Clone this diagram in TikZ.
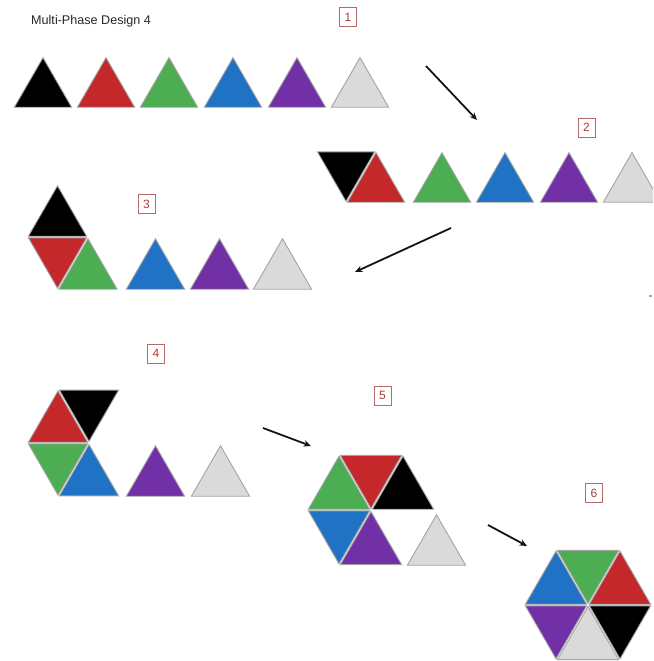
\documentclass[tikz,border=0pt]{standalone}
\usepackage{fontspec}
\setmainfont{Liberation Sans}
\usetikzlibrary{calc,arrows.meta}

\definecolor{tblack}{HTML}{000000}
\definecolor{tred}{HTML}{C4282B}
\definecolor{tgreen}{HTML}{4CAD52}
\definecolor{tblue}{HTML}{1F72C4}
\definecolor{tpurple}{HTML}{7230A6}
\definecolor{tgrey}{HTML}{DADADA}
\definecolor{tedge}{HTML}{A4A4A4}
\definecolor{labelred}{HTML}{A83A3A}
\definecolor{labelframe}{HTML}{B86A6A}

\tikzset{
  tileedge/.style={draw=tedge, line width=0.9pt, line join=miter},
  phaselabel/.style={draw=labelframe, line width=0.7pt, text=labelred,
    minimum width=17pt, minimum height=19pt, inner sep=0pt,
    font=\fontsize{12}{12}\selectfont},
  phasearrow/.style={draw=black!92, line width=1.8pt,
    -{Stealth[length=7.5pt,width=6.5pt]}},
}

% one triangular tile, pulled slightly in toward its centre
\newcommand\tile[4]{%
  \coordinate (tA) at (#2);
  \coordinate (tB) at (#3);
  \coordinate (tC) at (#4);
  \coordinate (tM) at ($0.3333*(tA)+0.3333*(tB)+0.3334*(tC)$);
  \filldraw[tileedge, fill=#1] ($(tA)!1.6pt!(tM)$) -- ($(tB)!1.6pt!(tM)$)
    -- ($(tC)!1.6pt!(tM)$) -- cycle;}
% upright tile: colour, left x, base y, side
\newcommand\uptile[4]{\tile{#1}{#2,#3}{{#2+#4},#3}{{#2+#4/2},{#3-0.866*#4}}}
% inverted tile: colour, left x, top y, side
\newcommand\downtile[4]{\tile{#1}{#2,#3}{{#2+#4},#3}{{#2+#4/2},{#3+0.866*#4}}}

\begin{document}
\begin{tikzpicture}[x=1pt, y=-1pt]
  \useasboundingbox (0,0) rectangle (653,661);
  \clip (0,0) rectangle (653,661);

  \node[anchor=base west, text=black!85, font=\fontsize{12.6}{13}\selectfont,
        inner sep=0pt] (title) at (31,25) {Multi-Phase Design 4};

  % phase 1: six loose tiles
  \uptile{tblack}{13}{108}{60}
  \uptile{tred}{76}{108}{60}
  \uptile{tgreen}{139}{108}{60}
  \uptile{tblue}{203}{108}{60}
  \uptile{tpurple}{267}{108}{60}
  \uptile{tgrey}{330}{108}{60}
  \node[phaselabel] (p1) at (348,17) {1};

  % phase 2
  \downtile{tblack}{316}{151}{60}
  \uptile{tred}{346}{203}{60}
  \uptile{tgreen}{412}{203}{60}
  \uptile{tblue}{475}{203}{60}
  \uptile{tpurple}{539}{203}{60}
  \uptile{tgrey}{602}{203}{60}
  \node[phaselabel] (p2) at (586.5,127.5) {2};

  % phase 3
  \uptile{tblack}{27}{237}{61}
  \downtile{tred}{27}{237}{61}
  \uptile{tgreen}{57.5}{290}{61}
  \uptile{tblue}{125}{290}{61}
  \uptile{tpurple}{189}{290}{61}
  \uptile{tgrey}{252}{290}{61}
  \node[phaselabel] (p3) at (146.5,204) {3};

  % phase 4
  \uptile{tred}{27}{443}{62}
  \downtile{tblack}{58}{389.3}{62}
  \downtile{tgreen}{27}{443}{62}
  \uptile{tblue}{58}{496.7}{62}
  \uptile{tpurple}{125}{497}{61}
  \uptile{tgrey}{190}{497}{61}
  \node[phaselabel] (p4) at (156,353.5) {4};

  % phase 5: five tiles of the hexagon plus one loose
  \uptile{tgreen}{307}{510}{64}
  \downtile{tred}{339}{454.6}{64}
  \uptile{tblack}{371}{510}{64}
  \downtile{tblue}{307}{510}{64}
  \uptile{tpurple}{339}{565.4}{64}
  \uptile{tgrey}{406}{566}{61}
  \node[phaselabel] (p5) at (382.5,395.5) {5};

  % phase 6: closed hexagon
  \uptile{tblue}{524}{605}{64}
  \downtile{tgreen}{556}{549.6}{64}
  \uptile{tred}{588}{605}{64}
  \downtile{tpurple}{524}{605}{64}
  \uptile{tgrey}{556}{660.4}{64}
  \downtile{tblack}{588}{605}{64}
  \node[phaselabel] (p6) at (594,493) {6};

  % transition arrows
  \coordinate (a1s) at (426,66);   \coordinate (a1e) at (477,120);
  \coordinate (a2s) at (451,228);  \coordinate (a2e) at (355,272);
  \coordinate (a3s) at (263,428);  \coordinate (a3e) at (311,446);
  \coordinate (a4s) at (488,525);  \coordinate (a4e) at (527,546);
  \draw[phasearrow] (a1s) -- (a1e);
  \draw[phasearrow] (a2s) -- (a2e);
  \draw[phasearrow] (a3s) -- (a3e);
  \draw[phasearrow] (a4s) -- (a4e);

  % small mark at the right edge
  \coordinate (mk) at (650.5,295.5);
  \fill[gray!70] ($(mk)+(-1.2,-1)$) rectangle ($(mk)+(1.2,1)$);
\end{tikzpicture}
\end{document}
